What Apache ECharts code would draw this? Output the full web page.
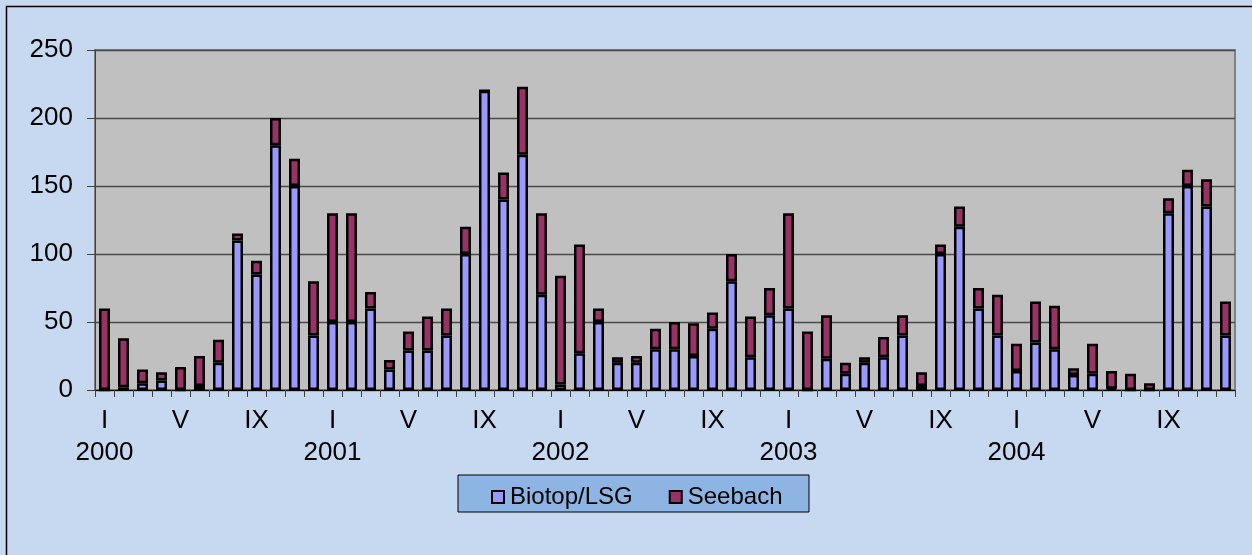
<!DOCTYPE html>
<html>
<head>
<meta charset="utf-8">
<script src="https://cdn.jsdelivr.net/npm/echarts@6/dist/echarts.min.js"></script>
<style>
html,body{margin:0;padding:0;background:#C6D9F1;}
#c{width:1252px;height:555px;}
</style>
</head>
<body>
<div id="c"></div>
<script>
var years = ['2000', '2001', '2002', '2003', '2004'];
var monthTicks = ['I', '', '', '', 'V', '', '', '', 'IX', '', '', ''];
var biotop = [
  0, 2, 5, 7, 0, 3, 20, 110, 85, 180, 150, 40,
  50, 50, 60, 15, 29, 29, 40, 100, 220, 140, 173, 70,
  4, 27, 50, 20, 20, 30, 30, 25, 45, 80, 24, 55,
  60, 0, 23, 12, 20, 24, 40, 3, 100, 120, 60, 40,
  14, 35, 30, 11, 12, 1, 0, 0, 130, 150, 135, 40
];
var seebach = [
  60, 36, 10, 6, 17, 22, 17, 5, 10, 20, 20, 40,
  80, 80, 12, 7, 14, 25, 20, 20, 0, 20, 50, 60,
  80, 80, 10, 4, 5, 15, 20, 24, 12, 20, 30, 20,
  70, 43, 32, 8, 4, 15, 15, 10, 7, 15, 15, 30,
  20, 30, 32, 5, 22, 13, 12, 5, 11, 12, 20, 25
];
var yTicks = [0, 50, 100, 150, 200, 250];

var cats = [];
years.forEach(function (y) {
  monthTicks.forEach(function (m, i) { cats.push(y + '-' + (i + 1)); });
});

var chart = echarts.init(document.getElementById('c'), null, {renderer: 'canvas'});
var FONT = '"Liberation Sans", Arial, sans-serif';
chart.setOption({
  backgroundColor: '#C6D9F1',
  animation: false,
  textStyle: {fontFamily: FONT},
  graphic: [
    {type: 'rect', z: -10, shape: {x: 6.5, y: 6.5, width: 1260, height: 560},
     style: {fill: 'none', stroke: '#000', lineWidth: 1.5}},
    {type: 'rect', z: 0, shape: {x: 458, y: 475, width: 351, height: 37},
     style: {fill: '#8DB4E2', stroke: '#000', lineWidth: 1}}
  ],
  grid: {left: 95, right: 17, top: 50, bottom: 165, show: true,
         backgroundColor: '#C0C0C0', borderColor: '#808080', borderWidth: 2},
  legend: {
    left: 486, top: 480, z: 10,
    itemWidth: 12, itemHeight: 12, itemGap: 36, icon: 'rect',
    textStyle: {fontSize: 24, color: '#000', fontFamily: FONT, padding: [0, 0, 0, 1]},
    data: [
      {name: 'Biotop/LSG', itemStyle: {color: '#9999FF', borderColor: '#000', borderWidth: 2}},
      {name: 'Seebach', itemStyle: {color: '#993366', borderColor: '#000', borderWidth: 2}}
    ]
  },
  xAxis: [
    {
      type: 'category', data: cats, position: 'bottom',
      axisLine: {show: true, lineStyle: {color: '#000', width: 1}},
      axisTick: {show: true, interval: 0, length: 7, lineStyle: {color: '#404040'}},
      axisLabel: {interval: 0, margin: 18, fontSize: 26, color: '#000', fontFamily: FONT,
        formatter: function (v, i) { return monthTicks[i % 12]; }}
    },
    {
      type: 'category', data: cats, position: 'bottom', offset: 0,
      axisLine: {show: false}, axisTick: {show: false}, splitLine: {show: false},
      axisLabel: {interval: 0, margin: 50, fontSize: 26, color: '#000', fontFamily: FONT,
        formatter: function (v, i) { return i % 12 === 0 ? years[i / 12] : ''; }}
    }
  ],
  yAxis: {
    type: 'value', min: yTicks[0], max: yTicks[yTicks.length - 1], interval: 50,
    axisLine: {show: true, lineStyle: {color: '#404040', width: 1}},
    axisTick: {show: true, length: 8, lineStyle: {color: '#404040'}},
    axisLabel: {margin: 22, fontSize: 26, color: '#000', fontFamily: FONT},
    splitLine: {show: true, lineStyle: {color: '#4a4a4a', width: 1.3}}
  },
  series: [
    {name: 'Biotop/LSG', type: 'bar', stack: 'a', data: biotop, barWidth: 11,
     itemStyle: {color: '#9999FF', borderColor: '#000', borderWidth: 2.5}},
    {name: 'Seebach', type: 'bar', stack: 'a', data: seebach, barWidth: 11,
     itemStyle: {color: '#993366', borderColor: '#000', borderWidth: 2.5}}
  ]
});
</script>
</body>
</html>
